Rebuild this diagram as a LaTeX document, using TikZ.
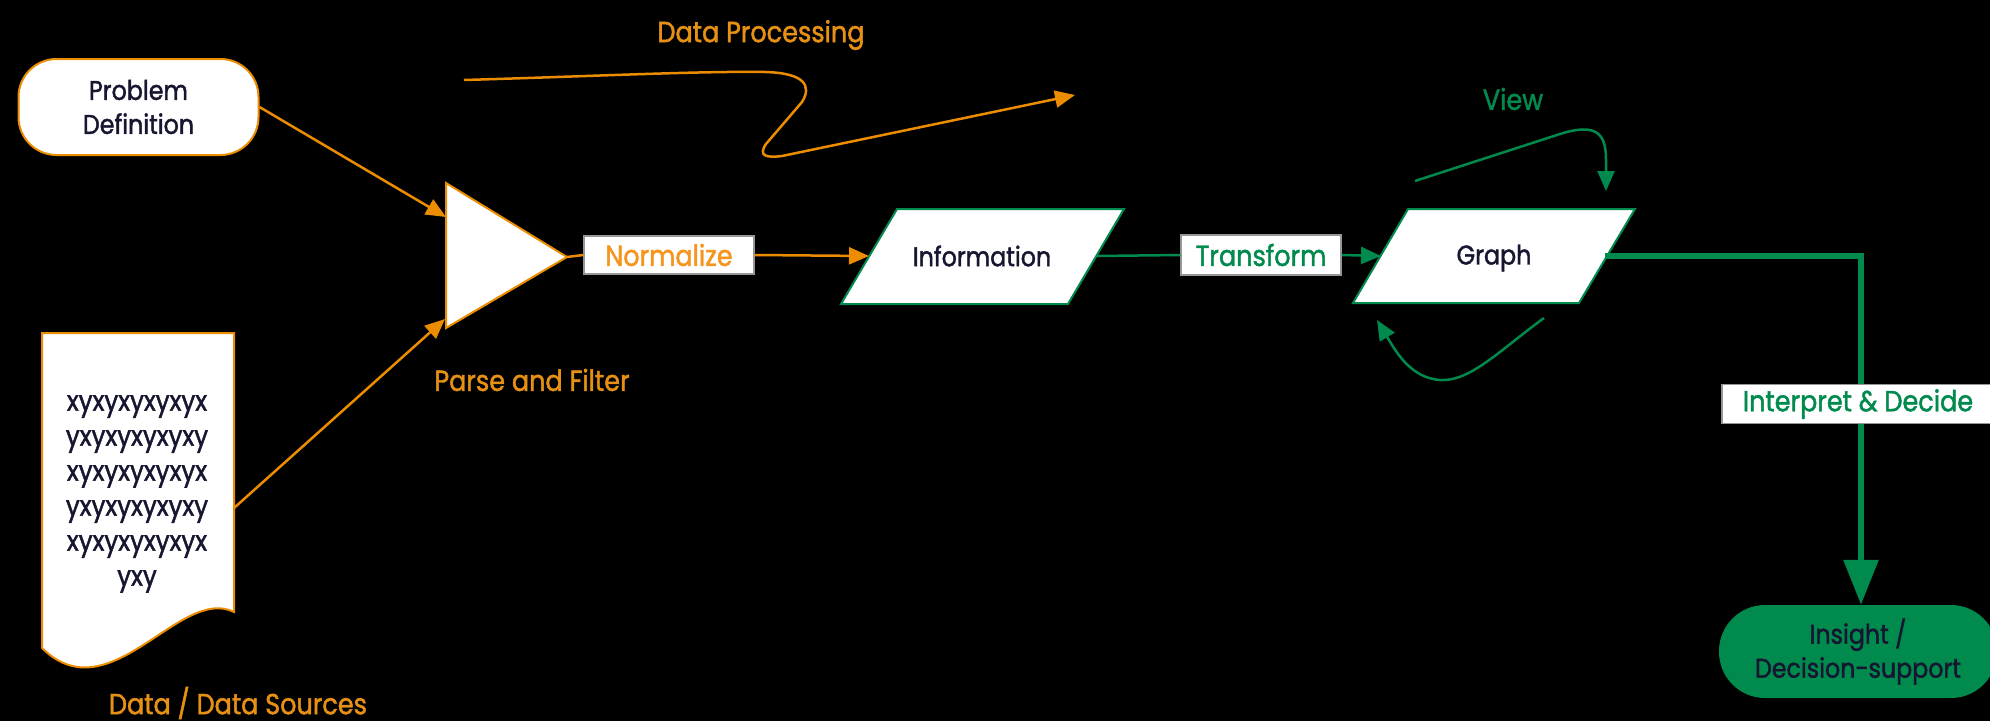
\documentclass[tikz,border=0pt]{standalone}
\usepackage{fontspec}
\setmainfont{Poppins}[FakeStretch=0.88, FakeBold=1.5]
\usetikzlibrary{arrows.meta}
\definecolor{org}{RGB}{236,140,0}
\definecolor{orgtxt}{RGB}{230,145,20}
\definecolor{orgL}{RGB}{246,148,30}
\definecolor{grn}{RGB}{0,138,78}
\definecolor{navy}{RGB}{22,22,48}
\definecolor{boxgray}{RGB}{150,150,150}
\tikzset{
  olabel/.style={text=orgtxt, font=\fontsize{29}{34}\selectfont, inner sep=0},
  glabel/.style={text=grn, font=\fontsize{29}{34}\selectfont, inner sep=0},
  nodetext/.style={text=navy, font=\fontsize{27}{34}\selectfont, align=center, inner sep=0},
  startbox/.style={nodetext, draw=org, fill=white, line width=2pt, rounded corners=38pt,
     minimum width=240pt, minimum height=96pt},
  endbox/.style={nodetext, fill=grn, rounded corners=46pt, minimum width=278pt, minimum height=93pt},
  lblbox/.style={fill=white, draw=boxgray, line width=1.5pt, inner sep=0,
     font=\fontsize{29}{34}\selectfont},
  shapeline/.style={line width=2pt, fill=white},
  oline/.style={draw=org, line width=2.5pt},
  oarrow/.style={oline, -{Triangle[length=20pt,width=17pt]}},
  gline/.style={draw=grn, line width=2.5pt},
  garrow/.style={gline, -{Triangle[length=20pt,width=17pt]}},
  bigarrow/.style={draw=grn, line width=6pt, -{Triangle[length=45pt,width=34pt]}},
}
\begin{document}
\begin{tikzpicture}[x=1pt,y=-1pt]
\fill[black] (0,0) rectangle (1990,721);
\useasboundingbox (0,0) rectangle (1990,721);

% Problem definition
\node[startbox] (prob) at (138.5,107) {Problem\\Definition};

% Triangle (parse and filter)
\coordinate (t1) at (446,183);
\coordinate (t2) at (446,328);
\coordinate (t3) at (567,257);
\draw[shapeline, draw=org] (t1) -- (t3) -- (t2) -- cycle;
\coordinate (tria) at (446,217);
\coordinate (trib) at (445,319);

% Document
\draw[shapeline, draw=org] (42,333) -- (234,333) -- (234,612)
  .. controls (180,585) and (110,715) .. (42,648) -- cycle;
\node[nodetext, font=\fontsize{28}{35}\selectfont] (doc) at (137,494)
  {xyxyxyxyxyx\\yxyxyxyxyxy\\xyxyxyxyxyx\\yxyxyxyxyxy\\xyxyxyxyxyx\\yxy};
\coordinate (docout) at (234,508);

% labels
\node[olabel] (dsrc) at (238,703) {Data / Data Sources};
\node[olabel] (pf) at (532,380) {Parse and Filter};
\node[olabel] (dp) at (761,35) {Data Processing};

% Normalize
\node[lblbox, text=orgL, minimum width=170pt, minimum height=38pt] (norm) at (669,255) {Normalize};

% Information parallelogram
\draw[shapeline, draw=grn] (841,304) -- (1068,304) -- (1124,209) -- (897,209) -- cycle;
\node[nodetext] (info) at (982,256) {Information};
\coordinate (infow) at (869,256);
\coordinate (infoe) at (1096,256);

% Transform
\node[lblbox, text=grn, minimum width=160pt, minimum height=40pt] (trans) at (1261,255) {Transform};

% Graph parallelogram
\draw[shapeline, draw=grn] (1353,303) -- (1579,303) -- (1635,209) -- (1408,209) -- cycle;
\node[nodetext] (graph) at (1494,258) {Graph};
\coordinate (graphw) at (1381,256);
\coordinate (graphe) at (1605,256);

% View
\node[glabel] (view) at (1513,99) {View};
\coordinate (v0) at (1415,181);
\coordinate (v1) at (1606,191);
\coordinate (b0) at (1544,318);
\coordinate (b1) at (1377,320);

% Insight
\node[endbox] (ins) at (1858,651.5) {Insight /\\Decision-support};
\coordinate (corner) at (1861,256);

% connectors
\draw[oarrow] (prob.east) -- (tria);
\draw[oarrow] (docout) -- (trib);
\draw[oline] (t3) -- (norm.west);
\draw[oarrow] (norm.east) -- (infow);
\draw[gline] (infoe) -- (trans.west);
\draw[garrow] (trans.east) -- (graphw);

\coordinate (dp0) at (464,80);
\coordinate (dp1) at (1075,95);
\draw[oarrow] (dp0) .. controls (600,76) and (700,71) .. (765,72)
  .. controls (805,73) and (812,86) .. (802,102) -- (766,144)
  .. controls (758,156) and (766,158) .. (782,156) -- (dp1);

\draw[garrow] (v0) -- (1560,134) .. controls (1598,122) and (1606,135) .. (1606,160) -- (v1);
\draw[garrow] (b0) .. controls (1500,350) and (1470,382) .. (1440,380)
  .. controls (1410,378) and (1395,350) .. (b1);

\draw[bigarrow] (graphe) -- (corner) -- (corner |- ins.north);
\node[lblbox, text=grn, minimum width=272pt, minimum height=39pt] (interp) at (1858,404) {Interpret \& Decide};
\end{tikzpicture}
\end{document}
